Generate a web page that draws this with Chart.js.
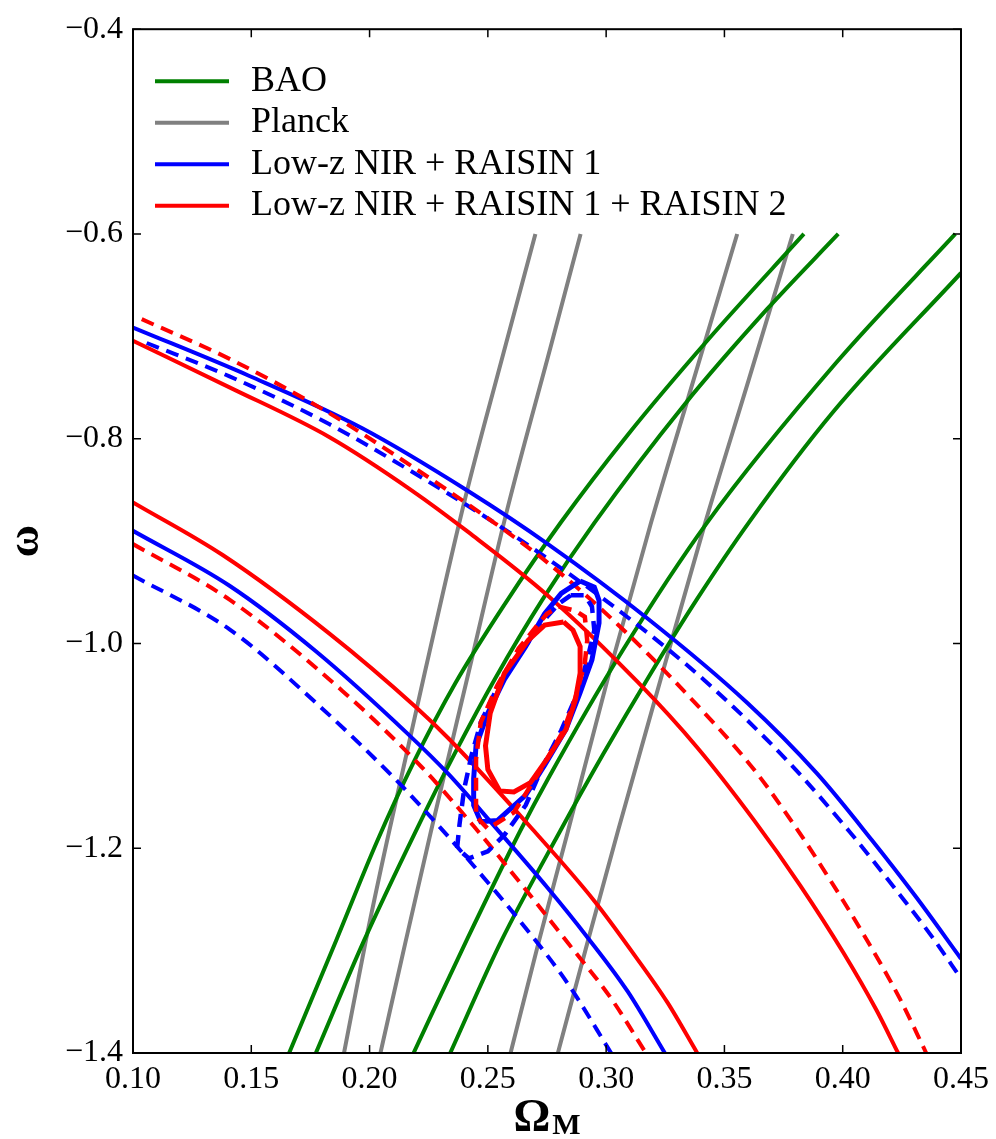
<!DOCTYPE html>
<html>
<head>
<meta charset="utf-8">
<title>Omega_M - w constraints</title>
<script src="https://cdn.jsdelivr.net/npm/chart.js@4.4.1/dist/chart.umd.min.js"></script>
<style>
    body { margin: 0; background: #fff; }
</style>
</head>
<body>
<canvas id="contourChart" width="996" height="1139"></canvas>
<script>
const canvas = document.getElementById("contourChart");
const ctx = canvas.getContext("2d");

const xTicks = [0.10, 0.15, 0.20, 0.25, 0.30, 0.35, 0.40, 0.45];
const yTicks = [-1.4, -1.2, -1.0, -0.8, -0.6, -0.4];
const legendLabels = ["BAO", "Planck", "Low-z NIR + RAISIN 1", "Low-z NIR + RAISIN 1 + RAISIN 2"];
const legendColors = ["#008000", "#808080", "#0000ff", "#ff0000"];

// BAO band edges [Omega_M, w]
const baoOuterLeft = [[0.3836,-0.600],[0.3427,-0.7043],[0.3091,-0.7963],[0.2809,-0.8816],[0.2573,-0.9610],[0.2363,-1.0386],[0.2186,-1.1161],[0.2031,-1.1936],[0.1858,-1.2905],[0.1660,-1.400]];
const baoInnerLeft = [[0.3981,-0.600],[0.3680,-0.6735],[0.3329,-0.7672],[0.2951,-0.8819],[0.2730,-0.9574],[0.2534,-1.0329],[0.2358,-1.1083],[0.2194,-1.1839],[0.1976,-1.2905],[0.1773,-1.400]];
const baoInnerRight = [[0.4476,-0.600],[0.3974,-0.7253],[0.3427,-0.8819],[0.3069,-1.0071],[0.2754,-1.1323],[0.2635,-1.1839],[0.2409,-1.2905],[0.2186,-1.400]];
const baoOuterRight = [[0.4500,-0.6381],[0.3960,-0.7737],[0.3603,-0.8819],[0.3382,-0.9574],[0.3179,-1.0329],[0.2987,-1.1083],[0.2804,-1.1839],[0.2557,-1.2905],[0.2341,-1.400]];

// Planck band edges
const planckOuterLeft = [[0.2701,-0.600],[0.2552,-0.7285],[0.2405,-0.8574],[0.2233,-1.0289],[0.2073,-1.1936],[0.1984,-1.2905],[0.1892,-1.400]];
const planckInnerLeft = [[0.2892,-0.600],[0.2763,-0.7123],[0.2582,-0.8690],[0.2418,-1.0289],[0.2259,-1.1839],[0.2153,-1.2905],[0.2046,-1.400]];
const planckInnerRight = [[0.3554,-0.600],[0.3369,-0.7430],[0.3190,-0.8819],[0.3013,-1.0289],[0.2838,-1.1839],[0.2716,-1.2905],[0.2596,-1.400]];
const planckOuterRight = [[0.3789,-0.600],[0.3602,-0.7430],[0.3419,-0.8819],[0.3238,-1.0289],[0.3049,-1.1839],[0.2923,-1.2905],[0.2796,-1.400]];

// Low-z NIR + RAISIN 1 (blue)
const nirUpper = [[0.100,-0.6914],[0.1492,-0.7387],[0.1969,-0.7898],[0.2418,-0.8513],[0.2754,-0.9029],[0.3175,-0.9756],[0.3596,-1.0579],[0.3890,-1.1267],[0.4122,-1.1917],[0.4311,-1.2479],[0.4500,-1.3079]];
const nirLower = [[0.100,-0.8900],[0.1408,-0.9436],[0.1773,-1.0076],[0.2165,-1.0890],[0.2334,-1.1277],[0.2530,-1.1791],[0.2754,-1.2391],[0.2923,-1.2876],[0.3091,-1.3399],[0.3248,-1.400]];
const nirUpperDash = [[0.1058,-0.7065],[0.1408,-0.7391],[0.1829,-0.7857],[0.2249,-0.8419],[0.2544,-0.8845],[0.2754,-0.9174],[0.3049,-0.9669],[0.3414,-1.0357],[0.3764,-1.1141],[0.4029,-1.1839],[0.4227,-1.2411],[0.4381,-1.2876],[0.4500,-1.3273]];
const nirLowerDash = [[0.100,-0.9336],[0.1408,-0.9862],[0.1773,-1.0579],[0.2109,-1.1326],[0.2292,-1.1781],[0.2446,-1.2188],[0.2656,-1.2769],[0.2838,-1.3322],[0.3021,-1.400]];
const nirInner = [[0.289,-0.939],[0.295,-0.945],[0.297,-0.958],[0.297,-0.980],[0.294,-1.016],[0.289,-1.048],[0.283,-1.084],[0.274,-1.119],[0.266,-1.148],[0.254,-1.173],[0.247,-1.174],[0.244,-1.158],[0.244,-1.132],[0.245,-1.100],[0.250,-1.068],[0.257,-1.035],[0.266,-1.003],[0.274,-0.971],[0.281,-0.951],[0.289,-0.939]];
const nirInnerDash = [[0.285,-0.953],[0.291,-0.953],[0.294,-0.964],[0.295,-0.987],[0.292,-1.016],[0.288,-1.048],[0.281,-1.085],[0.273,-1.121],[0.266,-1.158],[0.257,-1.187],[0.250,-1.203],[0.242,-1.210],[0.237,-1.200],[0.238,-1.177],[0.240,-1.142],[0.243,-1.110],[0.247,-1.077],[0.254,-1.043],[0.264,-1.008],[0.275,-0.974],[0.280,-0.961],[0.285,-0.953]];

// Low-z NIR + RAISIN 1 + RAISIN 2 (red)
const allUpper = [[0.100,-0.7043],[0.1408,-0.7498],[0.1829,-0.7983],[0.2179,-0.8506],[0.2418,-0.8913],[0.2754,-0.9533],[0.3133,-1.0376],[0.3385,-1.1016],[0.3624,-1.1723],[0.3820,-1.2362],[0.4003,-1.3021],[0.4143,-1.3583],[0.4234,-1.400]];
const allLower = [[0.100,-0.8622],[0.1379,-0.9136],[0.1829,-0.9901],[0.2194,-1.0618],[0.2334,-1.0928],[0.2683,-1.1800],[0.2951,-1.2517],[0.3119,-1.3041],[0.3259,-1.3506],[0.3385,-1.400]];
const allUpperDash = [[0.1037,-0.6832],[0.1408,-0.7220],[0.1801,-0.7711],[0.2137,-0.8205],[0.2530,-0.8826],[0.2754,-0.9213],[0.3049,-0.9814],[0.3356,-1.0531],[0.3624,-1.1229],[0.3806,-1.1810],[0.3932,-1.2256],[0.4087,-1.2837],[0.4241,-1.3467],[0.4353,-1.400]];
const allLowerDash = [[0.100,-0.9029],[0.1408,-0.9572],[0.1885,-1.0463],[0.2221,-1.1209],[0.2439,-1.1781],[0.2642,-1.2353],[0.2838,-1.2924],[0.3021,-1.3467],[0.3168,-1.400]];
const allInner = [[0.282,-0.979],[0.286,-0.987],[0.289,-1.003],[0.289,-1.029],[0.287,-1.055],[0.283,-1.084],[0.275,-1.113],[0.268,-1.136],[0.261,-1.145],[0.255,-1.144],[0.250,-1.123],[0.249,-1.100],[0.251,-1.068],[0.257,-1.029],[0.267,-0.997],[0.274,-0.982],[0.282,-0.979]];
const allInnerDash = [[0.280,-0.964],[0.287,-0.968],[0.291,-0.974],[0.292,-0.997],[0.291,-1.019],[0.287,-1.053],[0.282,-1.085],[0.273,-1.121],[0.261,-1.165],[0.250,-1.181],[0.245,-1.169],[0.245,-1.113],[0.247,-1.077],[0.254,-1.041],[0.263,-1.005],[0.271,-0.982],[0.275,-0.971],[0.280,-0.964]];

// band edges get a monotone spline, the closed inner contours stay polygonal
function contour(points, color, dashed, width, smooth){
    return {
        data: points.map(p => ({x: p[0], y: p[1]})),
        showLine: true,
        borderColor: color,
        borderWidth: width,
        borderDash: dashed ? [13, 8] : [],
        pointRadius: 0,
        fill: false,
        cubicInterpolationMode: smooth ? "monotone" : "default",
        tension: 0,
        clip: 0
    };
};

const [green, gray, blue, red] = legendColors;
const datasets = [
    contour(allInner, red, false, 5, false),
    contour(allInnerDash, red, true, 4.5, false),
    contour(nirInner, blue, false, 5, false),
    contour(nirInnerDash, blue, true, 4.5, false),
    contour(allUpper, red, false, 4, true),
    contour(allLower, red, false, 4, true),
    contour(allUpperDash, red, true, 4, true),
    contour(allLowerDash, red, true, 4, true),
    contour(nirUpper, blue, false, 4, true),
    contour(nirLower, blue, false, 4, true),
    contour(nirUpperDash, blue, true, 4, true),
    contour(nirLowerDash, blue, true, 4, true),
    contour(baoOuterLeft, green, false, 4, true),
    contour(baoInnerLeft, green, false, 4, true),
    contour(baoInnerRight, green, false, 4, true),
    contour(baoOuterRight, green, false, 4, true),
    contour(planckOuterLeft, gray, false, 4, true),
    contour(planckInnerLeft, gray, false, 4, true),
    contour(planckInnerRight, gray, false, 4, true),
    contour(planckOuterRight, gray, false, 4, true)
];

// frame with inward ticks, legend and the Omega_M label
const frameAndLabels = {
    id: "frameAndLabels",
    afterDraw(chart){
        const {ctx, chartArea: area, scales} = chart;
        ctx.save();
        ctx.strokeStyle = "#000";
        ctx.lineWidth = 2;
        ctx.strokeRect(area.left, area.top, area.right - area.left, area.bottom - area.top);
        ctx.lineWidth = 1.5;
        ctx.beginPath();
        xTicks.forEach(v => {
            const px = scales.x.getPixelForValue(v);
            ctx.moveTo(px, area.bottom); ctx.lineTo(px, area.bottom - 8);
            ctx.moveTo(px, area.top); ctx.lineTo(px, area.top + 8);
        });
        yTicks.forEach(v => {
            const py = scales.y.getPixelForValue(v);
            ctx.moveTo(area.left, py); ctx.lineTo(area.left + 8, py);
            ctx.moveTo(area.right, py); ctx.lineTo(area.right - 8, py);
        });
        ctx.stroke();

        ctx.font = "36px 'Liberation Serif'";
        ctx.textBaseline = "middle";
        ctx.textAlign = "left";
        ctx.fillStyle = "#000";
        legendLabels.forEach((label, i) => {
            const y = area.top + 52 + i * 41.5;
            ctx.strokeStyle = legendColors[i];
            ctx.lineWidth = 4;
            ctx.beginPath();
            ctx.moveTo(area.left + 22, y);
            ctx.lineTo(area.left + 96, y);
            ctx.stroke();
            ctx.fillText(label, area.left + 118, y);
        });

        ctx.textBaseline = "alphabetic";
        ctx.font = "bold 46px 'Liberation Serif'";
        const wOmega = ctx.measureText("Ω").width;
        ctx.font = "bold 30px 'Liberation Serif'";
        const wM = ctx.measureText("M").width;
        const startX = (area.left + area.right) / 2 - (wOmega + wM + 2) / 2;
        ctx.font = "bold 46px 'Liberation Serif'";
        ctx.fillText("Ω", startX, 1131);
        ctx.font = "bold 30px 'Liberation Serif'";
        ctx.fillText("M", startX + wOmega + 2, 1134);
        ctx.restore();
    }
};

const tickFont = {family: "'Liberation Serif'", size: 32};
const chart = new Chart(ctx, {
    type: "scatter",
    data: {datasets: datasets},
    options: {
        responsive: false,
        animation: false,
        devicePixelRatio: 1,
        layout: {padding: {top: 21, right: 31, left: 0, bottom: 0}},
        plugins: {
            legend: {display: false},
            tooltip: {enabled: false}
        },
        scales: {
            x: {
                type: "linear",
                min: 0.1,
                max: 0.45,
                afterFit: s => { s.height = 86; },
                afterBuildTicks: s => { s.ticks = xTicks.map(v => ({value: v})); },
                grid: {display: false, drawTicks: false},
                border: {display: false},
                ticks: {
                    padding: 7,
                    maxRotation: 0,
                    autoSkip: false,
                    color: "#000",
                    font: tickFont,
                    callback: v => v.toFixed(2)
                }
            },
            y: {
                type: "linear",
                min: -1.4,
                max: -0.4,
                afterFit: s => { s.width = 133; },
                afterBuildTicks: s => { s.ticks = yTicks.map(v => ({value: v})); },
                grid: {display: false, drawTicks: false},
                border: {display: false},
                ticks: {
                    padding: 10,
                    autoSkip: false,
                    color: "#000",
                    font: tickFont,
                    callback: v => "\u2212" + Math.abs(v).toFixed(1)
                },
                title: {
                    display: true,
                    text: "ω",
                    color: "#000",
                    padding: 0,
                    font: {family: "'Liberation Serif'", size: 44, weight: "bold"}
                }
            }
        }
    },
    plugins: [frameAndLabels]
});
</script>
</body>
</html>
